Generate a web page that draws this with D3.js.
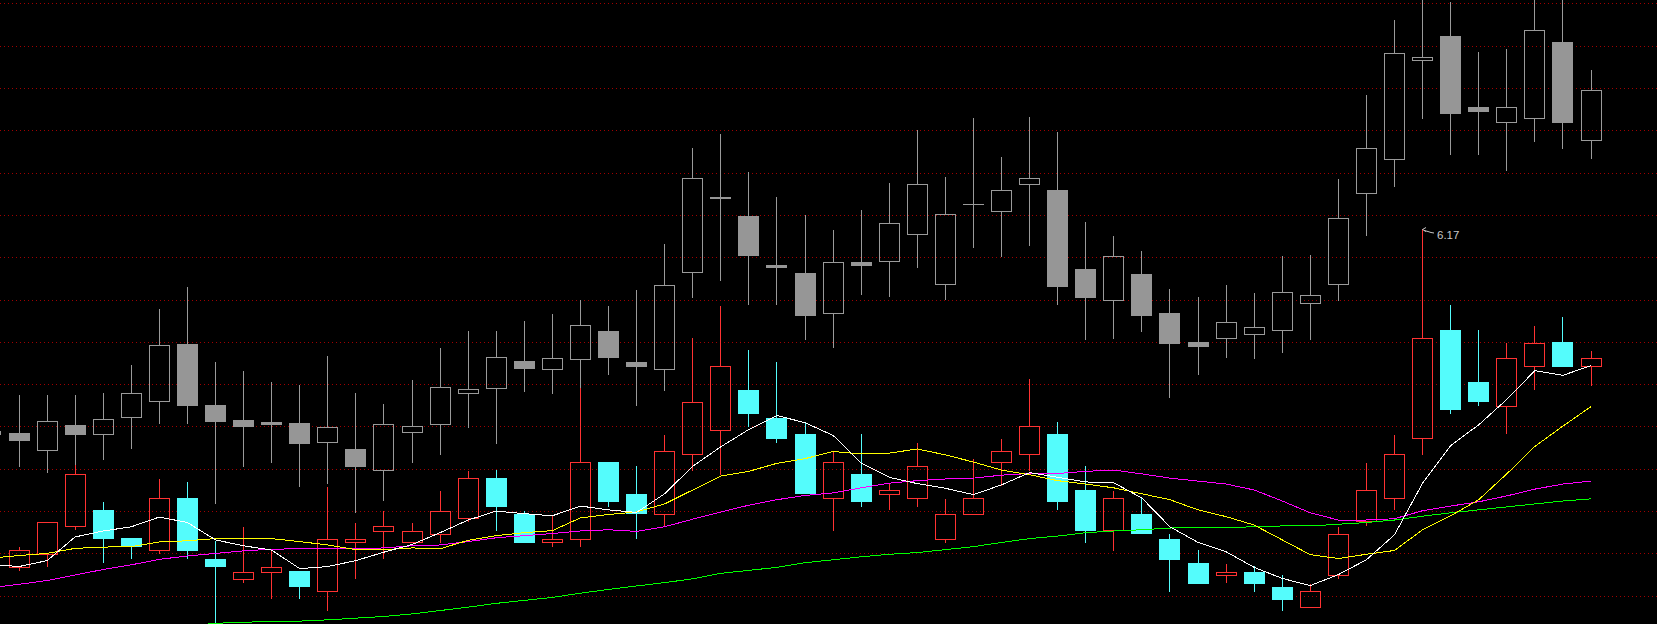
<!DOCTYPE html>
<html><head><meta charset="utf-8">
<script src="https://cdn.jsdelivr.net/npm/d3@7/dist/d3.min.js"></script>
<style>html,body{margin:0;padding:0;background:#000;overflow:hidden}svg{display:block}</style>
</head><body>
<svg id="chart" width="1657" height="624"></svg>
<script>
// bar index (categories); -1 is the partly visible bar at the left edge
const bars = [-1,0,1,2,3,4,5,6,7,8,9,10,11,12,13,14,15,16,17,18,19,20,21,22,23,24,25,26,27,28,29,30,31,32,33,34,35,36,37,38,39,40,41,42,43,44,45,46,47,48,49,50,51,52,53,54,55,56];

// main security (red up / cyan down)
const mainOpen  = [null,5.380,5.410,5.476,5.514,5.448,5.419,5.543,5.398,5.351,5.369,5.370,5.322,5.438,5.466,5.438,5.457,5.495,5.589,5.504,5.438,5.447,5.627,5.552,5.505,5.647,5.703,5.797,5.731,5.694,5.542,5.600,5.552,5.542,5.447,5.505,5.627,5.647,5.694,5.561,5.468,5.505,5.447,5.389,5.361,5.369,5.332,5.285,5.360,5.488,5.542,5.684,5.941,5.816,5.760,5.855,5.911,5.855];
const mainHigh  = [null,5.427,5.485,5.621,5.533,5.448,5.588,5.581,5.441,5.475,5.417,5.370,5.569,5.484,5.513,5.484,5.559,5.606,5.608,5.513,5.500,5.802,5.627,5.618,5.691,5.922,5.997,5.893,5.864,5.723,5.655,5.694,5.578,5.674,5.540,5.635,5.682,5.825,5.723,5.618,5.559,5.544,5.457,5.419,5.388,5.381,5.360,5.339,5.474,5.626,5.691,6.179,5.999,5.941,5.909,5.949,5.970,5.890];
const mainLow   = [null,5.372,5.381,5.469,5.391,5.400,5.413,5.400,5.207,5.344,5.306,5.306,5.278,5.353,5.400,5.438,5.440,5.488,5.468,5.440,5.430,5.430,5.525,5.449,5.476,5.609,5.600,5.714,5.676,5.554,5.468,5.525,5.516,5.525,5.440,5.505,5.574,5.610,5.516,5.440,5.421,5.459,5.324,5.343,5.344,5.324,5.278,5.285,5.353,5.478,5.516,5.648,5.744,5.762,5.696,5.800,5.856,5.810];
const mainClose = [null,5.419,5.485,5.599,5.449,5.430,5.543,5.421,5.381,5.369,5.379,5.334,5.447,5.447,5.476,5.466,5.513,5.589,5.525,5.440,5.447,5.627,5.535,5.507,5.655,5.769,5.854,5.743,5.685,5.554,5.627,5.535,5.561,5.618,5.504,5.542,5.655,5.713,5.535,5.468,5.542,5.459,5.399,5.343,5.369,5.343,5.305,5.322,5.457,5.561,5.646,5.922,5.753,5.771,5.873,5.910,5.856,5.873];

// overlaid comparison security (grey)
const cmpOpen  = [5.693,5.696,5.657,5.715,5.693,5.735,5.771,5.907,5.762,5.728,5.723,5.720,5.675,5.659,5.608,5.700,5.717,5.792,5.802,5.866,5.847,5.871,5.937,5.864,5.847,6.076,6.254,6.209,6.094,6.075,5.979,6.101,6.104,6.166,6.048,6.237,6.221,6.285,6.271,6.084,6.010,6.072,5.980,5.912,5.921,5.930,5.939,6.003,6.048,6.263,6.344,6.578,6.636,6.467,6.431,6.441,6.620,6.389];
const cmpHigh  = [5.708,5.786,5.786,5.786,5.790,5.857,5.990,6.042,5.864,5.843,5.817,5.810,5.878,5.790,5.765,5.822,5.897,5.937,5.937,5.961,5.978,6.012,5.997,6.034,6.143,6.370,6.403,6.314,6.254,6.211,6.176,6.223,6.287,6.412,6.301,6.441,6.348,6.443,6.408,6.195,6.162,6.126,6.037,6.018,6.047,6.027,6.114,6.117,6.296,6.495,6.672,6.744,6.715,6.597,6.604,6.744,6.732,6.554];
const cmpLow   = [5.687,5.619,5.605,5.619,5.634,5.662,5.721,5.719,5.530,5.618,5.629,5.572,5.579,5.510,5.537,5.629,5.648,5.710,5.674,5.796,5.792,5.803,5.837,5.762,5.799,6.019,6.059,6.001,6.001,5.918,5.899,6.024,6.021,6.090,6.013,6.135,6.116,6.142,6.002,5.918,5.922,5.938,5.782,5.836,5.877,5.873,5.887,5.918,6.010,6.165,6.280,6.442,6.355,6.355,6.319,6.386,6.371,6.347];
const cmpClose = [5.701,5.681,5.725,5.693,5.730,5.790,5.904,5.762,5.724,5.714,5.717,5.674,5.710,5.619,5.717,5.713,5.805,5.800,5.875,5.849,5.873,5.951,5.875,5.856,6.046,6.299,6.251,6.117,6.090,5.976,6.100,6.093,6.192,6.285,6.213,6.237,6.270,6.300,6.045,6.019,6.114,5.976,5.910,5.901,5.958,5.946,6.029,6.022,6.204,6.369,6.594,6.585,6.454,6.457,6.466,6.649,6.432,6.508];

// moving averages of the main security
const ma5  = [5.387,5.382,5.396,5.452,5.466,5.476,5.499,5.486,5.445,5.431,5.421,5.377,5.382,5.396,5.416,5.434,5.462,5.492,5.513,5.507,5.502,5.525,5.516,5.510,5.554,5.619,5.665,5.706,5.739,5.722,5.692,5.627,5.593,5.578,5.567,5.552,5.575,5.604,5.593,5.582,5.580,5.544,5.476,5.439,5.417,5.380,5.354,5.337,5.363,5.398,5.457,5.579,5.668,5.717,5.777,5.845,5.834,5.857];
const ma10 = [5.402,5.408,5.413,5.425,5.428,5.429,5.440,5.443,5.448,5.448,5.448,5.441,5.433,5.422,5.422,5.426,5.424,5.444,5.455,5.462,5.467,5.497,5.505,5.511,5.530,5.563,5.596,5.607,5.626,5.637,5.654,5.648,5.650,5.660,5.646,5.629,5.610,5.599,5.585,5.577,5.568,5.554,5.540,5.516,5.500,5.480,5.445,5.410,5.401,5.411,5.420,5.469,5.502,5.540,5.601,5.666,5.714,5.760];
const ma20 = [5.332,5.340,5.349,5.362,5.375,5.386,5.399,5.407,5.413,5.419,5.423,5.424,5.424,5.424,5.426,5.431,5.433,5.441,5.450,5.455,5.460,5.466,5.469,5.465,5.476,5.494,5.511,5.527,5.540,5.550,5.556,5.568,5.579,5.585,5.589,5.591,5.598,5.602,5.602,5.607,5.610,5.601,5.591,5.584,5.577,5.563,5.537,5.509,5.492,5.492,5.495,5.514,5.525,5.535,5.549,5.565,5.577,5.584];
const ma60 = [null,null,null,null,null,null,null,5.241,5.248,5.250,5.253,5.253,5.256,5.260,5.264,5.270,5.278,5.286,5.295,5.302,5.309,5.319,5.328,5.336,5.344,5.353,5.366,5.373,5.380,5.391,5.398,5.405,5.411,5.415,5.422,5.429,5.439,5.448,5.454,5.462,5.466,5.469,5.473,5.475,5.474,5.476,5.478,5.478,5.482,5.486,5.492,5.501,5.509,5.516,5.523,5.530,5.537,5.542];

// evenly spaced horizontal grid levels
const gridLevels = [6.712,6.612,6.512,6.412,6.312,6.212,6.112,6.012,5.912,5.812,5.712,5.612,5.512,5.412,5.312];

// high-price marker
const markerBar = 50;
const markerText = "6.17";

const W = 1657, H = 624;
const svg = d3.select("#chart");
svg.append("rect").attr("width", W).attr("height", H).attr("fill", "#000");

const x = d3.scaleLinear().domain([0, 56]).range([19, 1591]);
const y = d3.scaleLinear().domain([5.245, 6.72]).range([H, 0]);
const px = i => Math.floor(x(i));
const py = v => Math.round(y(v));

// grid
const g = svg.append("g").attr("shape-rendering", "crispEdges");
g.selectAll("line.grid").data(gridLevels).join("line")
  .attr("x1", 0).attr("x2", W)
  .attr("y1", d => py(d) + 0.5).attr("y2", d => py(d) + 0.5)
  .attr("stroke", "#a00000").attr("stroke-width", 1).attr("stroke-dasharray", "1,3");

function drawCandles(o, h, l, c, upColor, downColor, downFill) {
  const data = bars.map((b, k) => ({b, o: o[k], h: h[k], l: l[k], c: c[k]})).filter(d => d.o != null);
  const layer = svg.append("g").attr("shape-rendering", "crispEdges");
  data.forEach(d => {
    const cx = px(d.b);
    const up = d.c >= d.o;
    const col = up ? upColor : downColor;
    const top = Math.min(py(d.o), py(d.c)), bot = Math.max(py(d.o), py(d.c));
    const yh = py(d.h), yl = py(d.l);
    if (up) {
      if (yh < top) layer.append("line").attr("x1", cx + .5).attr("x2", cx + .5).attr("y1", yh).attr("y2", top).attr("stroke", col);
      if (yl > bot) layer.append("line").attr("x1", cx + .5).attr("x2", cx + .5).attr("y1", bot + 1).attr("y2", yl + 1).attr("stroke", col);
      if (bot - top < 1) {
        layer.append("line").attr("x1", cx - 10).attr("x2", cx + 11).attr("y1", top + .5).attr("y2", top + .5).attr("stroke", col);
      } else {
        layer.append("rect").attr("x", cx - 9.5).attr("y", top + .5).attr("width", 20).attr("height", bot - top)
          .attr("fill", "none").attr("stroke", col).attr("stroke-width", 1);
      }
    } else {
      layer.append("line").attr("x1", cx + .5).attr("x2", cx + .5).attr("y1", yh).attr("y2", yl + 1).attr("stroke", col);
      layer.append("rect").attr("x", cx - 10).attr("y", top).attr("width", 21).attr("height", Math.max(1, bot - top + 1))
        .attr("fill", downFill);
    }
  });
}

drawCandles(cmpOpen, cmpHigh, cmpLow, cmpClose, "#9a9a9a", "#9a9a9a", "#969696");
drawCandles(mainOpen, mainHigh, mainLow, mainClose, "#ff3232", "#54fcfc", "#54fcfc");

// moving-average lines
const lineGen = d3.line().defined(d => d.v != null).x(d => x(d.b)).y(d => y(d.v) + 0.5);
[[ma60, "#00ff00"], [ma20, "#ff00ff"], [ma10, "#ffff00"], [ma5, "#ffffff"]].forEach(([arr, col]) => {
  svg.append("path").datum(bars.map((b, k) => ({b, v: arr[k]})))
    .attr("d", lineGen).attr("fill", "none").attr("stroke", col).attr("stroke-width", 1)
    .attr("shape-rendering", "crispEdges");
});

// high-price marker
const k = bars.indexOf(markerBar);
const tx = px(markerBar), ty = py(mainHigh[k]);
const mk = svg.append("g").attr("stroke", "#c8c8c8").attr("fill", "none").attr("stroke-width", 1);
mk.append("path").attr("d", `M${tx + 4},${ty - 1.5} L${tx + 0.5},${ty + 0.5} L${tx + 4},${ty + 2.5}`);
mk.append("path").attr("d", `M${tx + 2},${ty + 1.5} L${tx + 6},${ty + 2.5} L${tx + 9},${ty + 3.5} L${tx + 12},${ty + 4}`);
svg.append("text").attr("x", tx + 15).attr("y", ty + 10)
  .attr("font-family", "Liberation Sans, Arial, sans-serif").attr("font-size", 11.5)
  .attr("fill", "#c8c8c8").text(markerText);
</script>
</body></html>
